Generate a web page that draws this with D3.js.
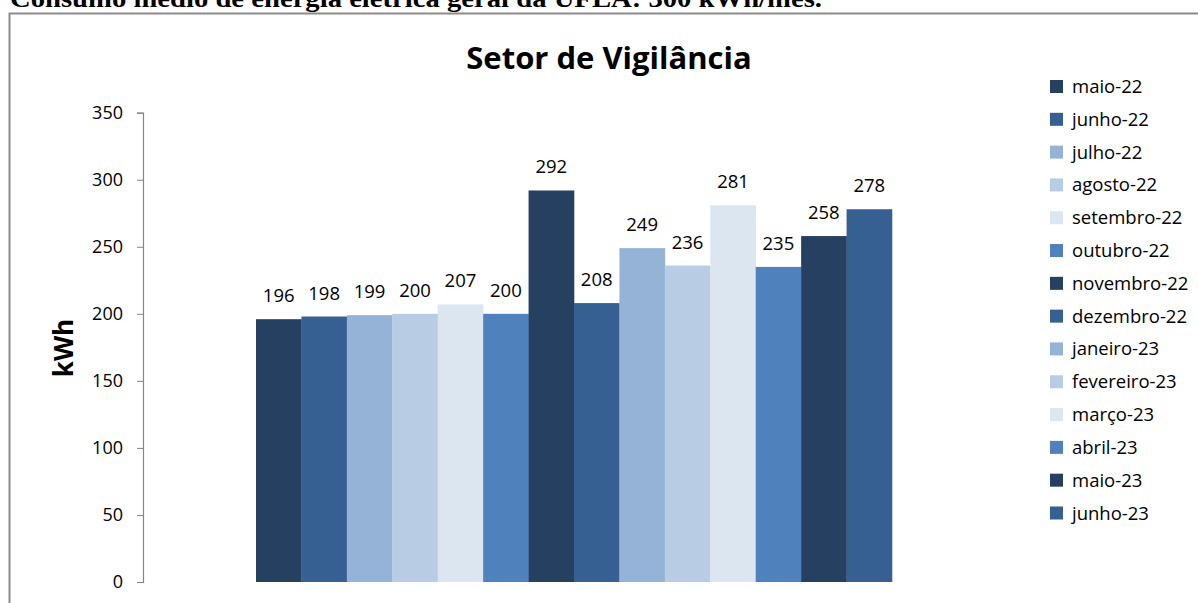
<!DOCTYPE html>
<html><head><meta charset="utf-8">
<script src="https://cdn.jsdelivr.net/npm/d3@7"></script>
<style>body{margin:0;background:#fff}svg{display:block}</style>
</head><body>
<script>
const months = ["maio-22","junho-22","julho-22","agosto-22","setembro-22","outubro-22","novembro-22","dezembro-22","janeiro-23","fevereiro-23","março-23","abril-23","maio-23","junho-23"];
const values = [196,198,199,200,207,200,292,208,249,236,281,235,258,278];
const colors = ["#264061","#366092","#95B3D7","#B8CCE4","#DCE6F1","#4F81BD","#264061","#366092","#95B3D7","#B8CCE4","#DCE6F1","#4F81BD","#264061","#366092"];
const yTicks = [0,50,100,150,200,250,300,350];
const title = "Setor de Vigilância";
const yLabel = "kWh";
const caption = "Consumo médio de energia elétrica geral da UFLA: 300 kWh/mês.";

(function(){
const W = 1198, H = 603;
const svg = d3.select("body").append("svg").attr("width", W).attr("height", H);
const font = "'Open Sans', sans-serif";

svg.append("text").attr("x", 10).attr("y", 7).attr("font-family", "'Liberation Serif', serif")
  .attr("font-weight", "bold").attr("font-size", 25).attr("textLength", 812)
  .attr("lengthAdjust", "spacingAndGlyphs").text(caption);

svg.append("rect").attr("x", 9.5).attr("y", 13.5).attr("width", 1200).attr("height", 600)
  .attr("fill", "none").attr("stroke", "#8c8c8c").attr("stroke-width", 2);

const pL = 143, pR = 1005, pT = 112.7, pB = 582;
const y = d3.scaleLinear().domain([0, 350]).range([pB, pT]);
const x0 = d3.scaleBand().domain(["g"]).range([pL, pR]).paddingInner(0).paddingOuter(0.1777);
const x1 = d3.scaleBand().domain(months).range([x0("g"), x0("g") + x0.bandwidth()]).padding(0);

const ax = svg.append("g").attr("transform", `translate(${pL},0)`)
  .call(d3.axisLeft(y).tickValues(yTicks).tickSize(6).tickPadding(14).tickFormat(d3.format("d")));
ax.select(".domain").attr("stroke", "#868686").attr("stroke-width", 1.2);
ax.selectAll(".tick line").attr("stroke", "#868686");
ax.selectAll(".tick text").attr("font-family", font).attr("font-size", 18).attr("fill", "#000");

svg.selectAll("rect.bar").data(values).enter().append("rect").attr("class", "bar")
  .attr("x", (d, i) => x1(months[i])).attr("width", x1.bandwidth() + 0.3)
  .attr("y", d => y(d)).attr("height", d => pB - y(d)).attr("fill", (d, i) => colors[i]);

svg.selectAll("text.lbl").data(values).enter().append("text").attr("class", "lbl")
  .attr("x", (d, i) => x1(months[i]) + x1.bandwidth() / 2).attr("y", d => y(d) - 17)
  .attr("text-anchor", "middle").attr("font-family", font).attr("font-size", 18.5).text(d => d);

svg.append("text").attr("x", 609).attr("y", 69).attr("text-anchor", "middle")
  .attr("font-family", font).attr("font-weight", "bold").attr("font-size", 31).text(title);

svg.append("text").attr("transform", `translate(73,348) rotate(-90)`).attr("text-anchor", "middle")
  .attr("font-family", font).attr("font-weight", "bold").attr("font-size", 26).text(yLabel);

const lg = svg.append("g");
const ly = d3.scalePoint().domain(months).range([86.5, 513]);
lg.selectAll("rect").data(months).enter().append("rect")
  .attr("x", 1050).attr("y", d => ly(d) - 6.5).attr("width", 13).attr("height", 13)
  .attr("fill", (d, i) => colors[i]);
lg.selectAll("text").data(months).enter().append("text")
  .attr("x", 1072).attr("y", d => ly(d) + 6.5).attr("font-family", font).attr("font-size", 18.5).text(d => d);
})();
</script>
</body></html>
